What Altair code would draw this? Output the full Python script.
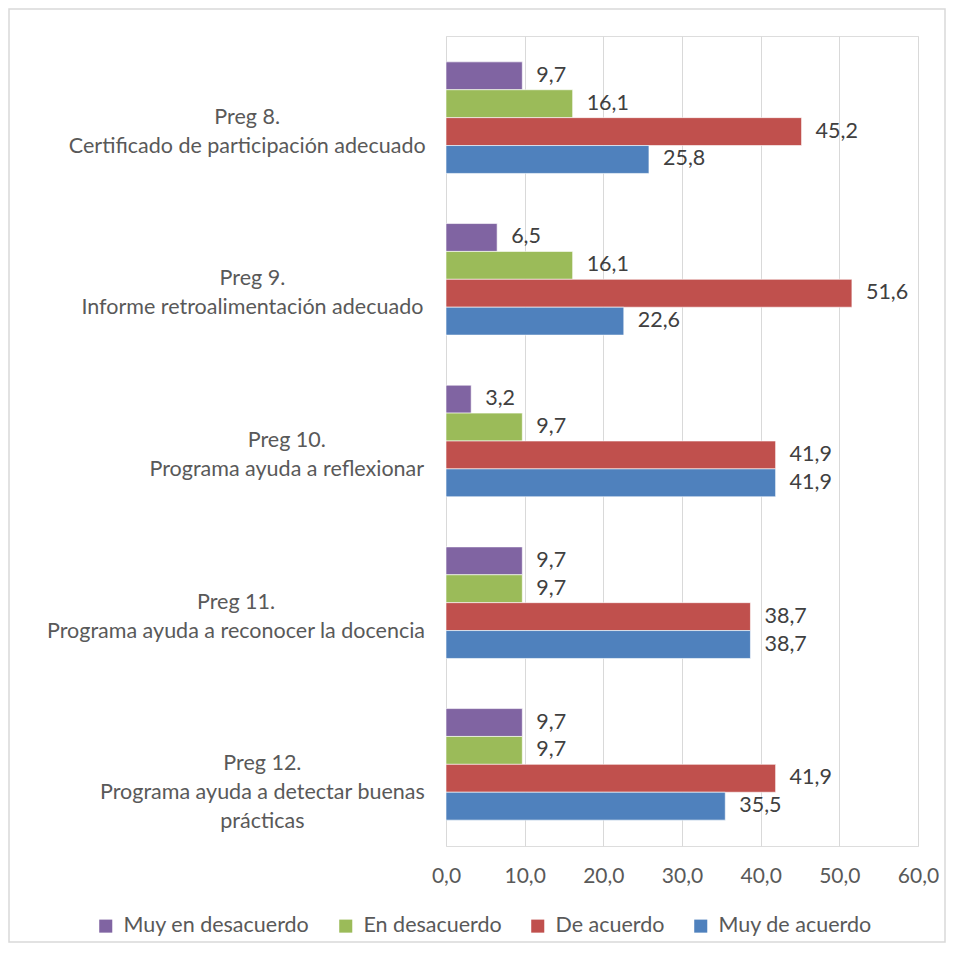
import altair as alt
import pandas as pd

categories = [
    "Preg 8.\nCertificado de participación adecuado",
    "Preg 9.\nInforme retroalimentación adecuado",
    "Preg 10.\nPrograma ayuda a reflexionar",
    "Preg 11.\nPrograma ayuda a reconocer la docencia",
    "Preg 12.\nPrograma ayuda a detectar buenas\nprácticas",
]
series = ["Muy en desacuerdo", "En desacuerdo", "De acuerdo", "Muy de acuerdo"]
colors = ["#8064A2", "#9BBB59", "#C0504D", "#4F81BD"]
muy_en_desacuerdo = [9.7, 6.5, 3.2, 9.7, 9.7]
en_desacuerdo = [16.1, 16.1, 9.7, 9.7, 9.7]
de_acuerdo = [45.2, 51.6, 41.9, 38.7, 41.9]
muy_de_acuerdo = [25.8, 22.6, 41.9, 38.7, 35.5]
x_ticks = [0, 10, 20, 30, 40, 50, 60]

rows = []
for s, vals in zip(series, [muy_en_desacuerdo, en_desacuerdo, de_acuerdo, muy_de_acuerdo]):
    for c, v in zip(categories, vals):
        rows.append({"cat": c, "serie": s, "valor": v})
df = pd.DataFrame(rows)

FONT = "Lato"
LBL_SIZE = 21.5
H = 810
W = 472

# approximate Lato advance widths (em) for centering the multi-line category labels
_W = {" ": .193, "a": .497, "á": .497, "b": .55, "c": .457, "d": .55, "e": .51, "f": .31,
      "g": .49, "h": .55, "i": .24, "l": .24, "m": .83, "n": .55, "o": .55, "ó": .55,
      "p": .55, "r": .36, "s": .42, "t": .34, "u": .55, "v": .49, "x": .48, "y": .49,
      "z": .44, "P": .57, "C": .65, "I": .28, ".": .2}


def text_width(s, size):
    return 1.02 * size * sum(_W.get(ch, .55) for ch in s)


y_enc = alt.Y("cat:N", sort=categories, axis=None,
              scale=alt.Scale(paddingInner=0.31, paddingOuter=0.16))
yoff = alt.YOffset("serie:N", sort=series, scale=alt.Scale(paddingInner=0, paddingOuter=0))

base = alt.Chart(df)

bars = base.mark_bar(stroke="#ffffff", strokeWidth=0.6).encode(
    x=alt.X("valor:Q", scale=alt.Scale(domain=[0, 60], nice=False),
            axis=alt.Axis(values=x_ticks, title=None, grid=True, gridColor="#d9d9d9",
                          domain=False, ticks=False, labelPadding=19, labelFontSize=21,
                          labelColor="#595959", labelFont=FONT, labelFlush=False,
                          labelExpr="replace(format(datum.value, '.1f'), '.', ',')")),
    y=y_enc,
    yOffset=yoff,
    color=alt.Color("serie:N", sort=series,
                    scale=alt.Scale(domain=series, range=colors),
                    legend=alt.Legend(title=None, orient="none", direction="horizontal",
                                      legendX=-351, legendY=879, symbolType="square",
                                      symbolSize=170, symbolStrokeWidth=0,
                                      labelFontSize=21.5, labelFont=FONT, labelColor="#595959",
                                      labelOffset=7, columnPadding=25, labelLimit=400)),
)

texts = base.transform_calculate(
    lbl="replace(format(datum.valor, '.1f'), '.', ',')"
).mark_text(align="left", baseline="middle", dx=14, fontSize=LBL_SIZE, font=FONT,
            color="#404040").encode(
    x="valor:Q", y=y_enc, yOffset=yoff, text="lbl:N",
)

layers = [bars, texts]

RIGHT = -23
for c in categories:
    block = max(text_width(l, LBL_SIZE) for l in c.split("\n"))
    cx = RIGHT - block / 2
    lbl = alt.Chart(pd.DataFrame({"t": [c]})).mark_text(
        align="center", baseline="middle", lineBreak="\n", lineHeight=29,
        fontSize=LBL_SIZE, font=FONT, color="#595959"
    ).encode(x=alt.value(cx), y=alt.datum(c), text="t:N")
    layers.append(lbl)

border = alt.Chart(pd.DataFrame({"a": [0]})).mark_rect(
    filled=False, stroke="#d9d9d9", strokeWidth=1.5
).encode(x=alt.value(-437), x2=alt.value(499), y=alt.value(-27), y2=alt.value(906))
layers.append(border)

chart = alt.layer(*layers).properties(
    width=W, height=H, padding=0
).configure_view(stroke=None).configure(background="white")

chart.save("out.html", embed_options={"renderer": "svg", "actions": False})
